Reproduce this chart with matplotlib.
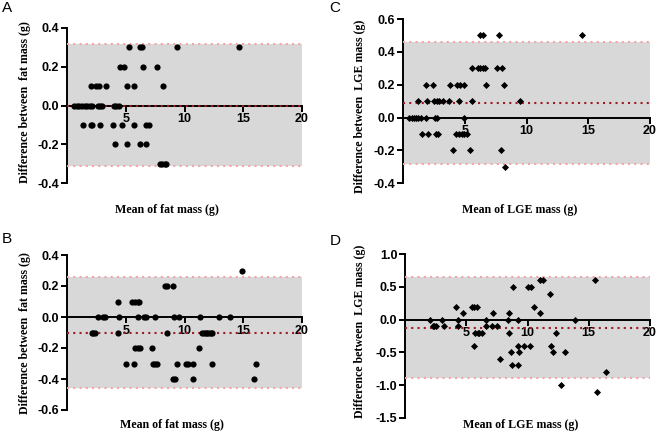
import numpy as np
import matplotlib
matplotlib.use("Agg")
import matplotlib.pyplot as plt

# Bland-Altman data (mean, difference)
a_mean = [5.25, 6.2, 6.4, 9.35, 14.6,
          4.5, 4.85, 6.45, 7.7,
          2.0, 2.5, 2.75, 3.3, 5.1, 5.7, 8.2,
          0.6, 0.85, 1.0, 1.25, 1.5, 1.7, 1.95, 2.1, 2.6, 2.8, 2.95, 4.0, 4.2, 4.4,
          1.4, 2.05, 2.15, 2.8, 3.9, 4.7, 5.7, 6.75, 6.95,
          4.05, 5.1, 6.25, 6.75,
          7.95, 8.1, 8.3, 8.45]
a_diff = [0.3] * 5 + [0.2] * 4 + [0.1] * 7 + [0.0] * 14 + [-0.1] * 9 + [-0.2] * 4 + [-0.3] * 4

b_mean = [14.9,
          8.3, 8.5, 9.0,
          4.3, 5.55, 5.75, 6.0, 6.1,
          2.6, 3.1, 3.2, 4.4, 6.0, 6.55, 6.7, 7.45, 9.1, 9.55, 11.3, 12.9, 13.9,
          2.1, 2.25, 2.4, 4.35, 8.5, 11.5, 11.65, 11.8, 11.95, 12.1, 12.25, 12.35,
          5.8, 6.0, 6.2, 7.2, 11.2,
          5.0, 5.7, 7.3, 7.5, 7.7, 9.35, 10.1, 10.3, 10.7, 12.3, 16.1,
          9.0, 9.2, 10.75, 15.95]
b_diff = [0.3] + [0.2] * 3 + [0.1] * 5 + [0.0] * 13 + [-0.1] * 12 + [-0.2] * 5 + [-0.3] * 11 + [-0.4] * 4

c_mean = [6.2, 6.45, 7.8, 14.5,
          5.55, 6.05, 6.25, 6.45, 6.6, 7.65, 8.05,
          1.85, 2.4, 3.8, 4.35, 4.6, 4.9, 6.75, 8.15,
          1.25, 1.95, 2.5, 2.75, 2.95, 3.25, 3.75, 4.5, 5.55, 9.5,
          0.5, 0.7, 0.9, 1.05, 1.25, 1.45, 1.85, 2.6, 2.75, 4.9,
          1.55, 2.05, 2.65, 2.8, 4.3, 4.5, 4.75, 4.9, 5.15,
          4.05, 5.45, 7.95,
          8.25]
c_diff = [0.5] * 4 + [0.3] * 7 + [0.2] * 8 + [0.1] * 10 + [0.0] * 10 + [-0.1] * 9 + [-0.2] * 3 + [-0.3]

d_mean = [11.0, 11.25, 15.5,
          8.8, 10.05, 10.3,
          11.85,
          4.15, 5.45, 5.65, 5.85, 10.5,
          4.75, 7.15, 8.45, 11.05,
          2.0, 3.0, 4.3, 6.6, 8.4, 9.2, 13.9,
          2.25, 2.4, 2.55, 3.15, 4.3, 6.6, 7.1, 7.55,
          5.75, 5.95, 6.05, 6.25, 8.5, 12.3,
          5.65, 9.2, 9.7, 10.2, 11.9,
          8.65, 9.3, 12.05, 13.1,
          7.75,
          8.7, 9.2,
          16.4,
          12.75,
          15.65]
d_diff = ([0.6] * 3 + [0.5] * 3 + [0.4] + [0.2] * 5 + [0.1] * 4 + [0.0] * 7 + [-0.1] * 8 +
          [-0.2] * 6 + [-0.4] * 5 + [-0.5] * 4 + [-0.6] + [-0.7] * 2 + [-0.8] + [-1.0] + [-1.1])

# limits of agreement and bias (lower, bias, upper)
a_lim = (-0.31, 0.0, 0.317)
b_lim = (-0.46, -0.1, 0.26)
c_lim = (-0.283, 0.087, 0.457)
d_lim = (-0.9, -0.125, 0.65)

a_yticks = [-0.4, -0.2, 0.0, 0.2, 0.4]
b_yticks = [-0.6, -0.4, -0.2, 0.0, 0.2, 0.4]
c_yticks = [-0.4, -0.2, 0.0, 0.2, 0.4, 0.6]
d_yticks = [-1.5, -1.0, -0.5, 0.0, 0.5, 1.0]
xticks = [5, 10, 15, 20]

W, H = 658, 432
fig = plt.figure(figsize=(W / 100, H / 100), dpi=100)

tickfont = dict(family="Liberation Sans", weight="bold", size=9)
labfont = dict(family="Liberation Serif", weight="bold", size=8.6)


def panel(rect, mean, diff, lim, yticks, ylab, xlab, marker, ms, ylx, yly, xlx, xly, letter, lpos):
    l, t, r, b = rect
    ax = fig.add_axes([l / W, 1 - b / H, (r - l) / W, (b - t) / H])
    ax.set_xlim(0, 20)
    ax.set_ylim(yticks[0], yticks[-1])
    ax.fill_between([0, 20], lim[0], lim[2], color="#d8d8d8", lw=0, zorder=0)
    for v, c in zip(lim, ["#f2a5ad", "#9e1b24", "#f2a5ad"]):
        ax.plot([0, 20], [v, v], color=c, lw=1.5, ls=(0, (1, 2)), zorder=3)
    ax.scatter(mean, diff, s=ms, marker=marker, color="black", lw=0, zorder=4)
    for s in ["top", "right"]:
        ax.spines[s].set_visible(False)
    ax.spines["bottom"].set_position(("data", 0))
    ax.spines["left"].set_linewidth(1.4)
    ax.spines["bottom"].set_linewidth(1.4)
    ax.spines["bottom"].set_zorder(2)
    ax.set_xticks(xticks)
    ax.set_yticks(yticks)
    ax.set_yticklabels(["%.1f" % v for v in yticks], fontdict=tickfont)
    ax.set_xticklabels([str(v) for v in xticks], fontdict=tickfont)
    ax.tick_params(axis="both", width=1.4, length=4, pad=1.5)
    ax.patch.set_alpha(0)
    # axis titles placed in pixels as in the reference
    fig.text(ylx / W, 1 - yly / H, ylab, rotation=90, ha="center", va="center", **labfont)
    fig.text(xlx / W, 1 - xly / H, xlab, ha="center", va="center", **labfont)
    fig.text(lpos[0] / W, 1 - lpos[1] / H, letter, family="Liberation Sans",
             size=11, ha="center", va="center")
    return ax


panel((67, 28, 302, 183), a_mean, a_diff, a_lim, a_yticks,
      "Difference between  fat mass (g)", "Mean of fat mass (g)", "o", 20,
      25, 102, 167, 210, "A", (7, 8))
panel((67, 255, 302, 410), b_mean, b_diff, b_lim, b_yticks,
      "Difference between  fat mass (g)", "Mean of fat mass (g)", "o", 20,
      25, 333, 172, 425, "B", (7, 239))
panel((403, 19, 650, 183.3), c_mean, c_diff, c_lim, c_yticks,
      "Difference between  LGE mass (g)", "Mean of LGE mass (g)", "D", 13,
      360, 106, 520, 210, "C", (335, 8))
panel((405, 254.3, 650, 417.7), d_mean, d_diff, d_lim, d_yticks,
      "Difference between  LGE mass (g)", "Mean of LGE mass (g)", "D", 13,
      360, 331, 521, 425, "D", (335, 241))

fig.savefig("out.png", dpi=100)
